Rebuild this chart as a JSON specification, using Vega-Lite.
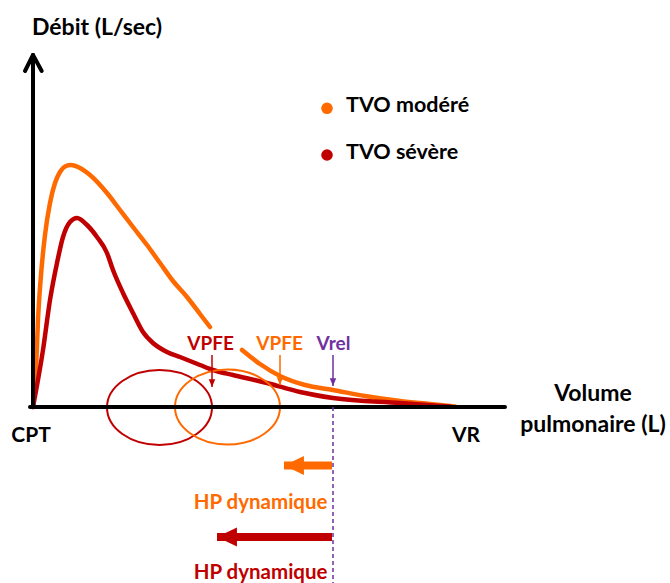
{
  "$schema": "https://vega.github.io/schema/vega-lite/v6.json",
  "width": 670,
  "height": 583,
  "padding": 0,
  "autosize": "none",
  "background": "white",
  "config": {"view": {"stroke": null}, "axis": {"domain": false}},
  "datasets": {
    "curves": [
      {"serie": "modere", "seg": "a", "vol": 0, "flow": 0},
      {"serie": "modere", "seg": "a", "vol": 3, "flow": 37},
      {"serie": "modere", "seg": "a", "vol": 5, "flow": 87},
      {"serie": "modere", "seg": "a", "vol": 8, "flow": 132},
      {"serie": "modere", "seg": "a", "vol": 12, "flow": 172},
      {"serie": "modere", "seg": "a", "vol": 17, "flow": 204},
      {"serie": "modere", "seg": "a", "vol": 22, "flow": 224},
      {"serie": "modere", "seg": "a", "vol": 27, "flow": 235},
      {"serie": "modere", "seg": "a", "vol": 33, "flow": 241},
      {"serie": "modere", "seg": "a", "vol": 38, "flow": 242},
      {"serie": "modere", "seg": "a", "vol": 47, "flow": 239},
      {"serie": "modere", "seg": "a", "vol": 57, "flow": 232},
      {"serie": "modere", "seg": "a", "vol": 74, "flow": 214},
      {"serie": "modere", "seg": "a", "vol": 87, "flow": 197},
      {"serie": "modere", "seg": "a", "vol": 100, "flow": 180},
      {"serie": "modere", "seg": "a", "vol": 114, "flow": 162},
      {"serie": "modere", "seg": "a", "vol": 127, "flow": 144},
      {"serie": "modere", "seg": "a", "vol": 140, "flow": 126},
      {"serie": "modere", "seg": "a", "vol": 154, "flow": 110},
      {"serie": "modere", "seg": "a", "vol": 167, "flow": 93},
      {"serie": "modere", "seg": "a", "vol": 177, "flow": 80},
      {"serie": "modere", "seg": "b", "vol": 209, "flow": 57},
      {"serie": "modere", "seg": "b", "vol": 227, "flow": 43},
      {"serie": "modere", "seg": "b", "vol": 247, "flow": 31},
      {"serie": "modere", "seg": "b", "vol": 272, "flow": 22},
      {"serie": "modere", "seg": "b", "vol": 300, "flow": 17},
      {"serie": "modere", "seg": "b", "vol": 332, "flow": 11},
      {"serie": "modere", "seg": "b", "vol": 367, "flow": 6},
      {"serie": "modere", "seg": "b", "vol": 397, "flow": 3},
      {"serie": "modere", "seg": "b", "vol": 422, "flow": 0.5},
      {"serie": "severe", "seg": "c", "vol": 0, "flow": 0},
      {"serie": "severe", "seg": "c", "vol": 10, "flow": 57},
      {"serie": "severe", "seg": "c", "vol": 17, "flow": 107},
      {"serie": "severe", "seg": "c", "vol": 24, "flow": 144},
      {"serie": "severe", "seg": "c", "vol": 30, "flow": 170},
      {"serie": "severe", "seg": "c", "vol": 37, "flow": 185},
      {"serie": "severe", "seg": "c", "vol": 44, "flow": 189},
      {"serie": "severe", "seg": "c", "vol": 54, "flow": 182},
      {"serie": "severe", "seg": "c", "vol": 64, "flow": 170},
      {"serie": "severe", "seg": "c", "vol": 74, "flow": 154},
      {"serie": "severe", "seg": "c", "vol": 80, "flow": 137},
      {"serie": "severe", "seg": "c", "vol": 90, "flow": 114},
      {"serie": "severe", "seg": "c", "vol": 100, "flow": 94},
      {"serie": "severe", "seg": "c", "vol": 110, "flow": 75},
      {"serie": "severe", "seg": "c", "vol": 120, "flow": 64},
      {"serie": "severe", "seg": "c", "vol": 134, "flow": 55},
      {"serie": "severe", "seg": "c", "vol": 147, "flow": 50},
      {"serie": "severe", "seg": "c", "vol": 167, "flow": 42},
      {"serie": "severe", "seg": "c", "vol": 180, "flow": 37},
      {"serie": "severe", "seg": "c", "vol": 200, "flow": 32},
      {"serie": "severe", "seg": "c", "vol": 234, "flow": 24},
      {"serie": "severe", "seg": "c", "vol": 267, "flow": 15},
      {"serie": "severe", "seg": "c", "vol": 300, "flow": 9},
      {"serie": "severe", "seg": "c", "vol": 367, "flow": 4},
      {"serie": "severe", "seg": "c", "vol": 417, "flow": 0.5}
    ],
    "ellipses": [
      {"serie": "severe", "vol": 126.5, "flow": -0.5},
      {"serie": "modere", "vol": 194.5, "flow": 0}
    ],
    "axes": [
      {"vol": 0, "flow": 0, "vol2": 0, "flow2": 352},
      {"vol": -3, "flow": 0, "vol2": 472, "flow2": 0},
      {"vol": 0, "flow": 352, "vol2": -8, "flow2": 336},
      {"vol": 0, "flow": 352, "vol2": 8.7, "flow2": 336}
    ],
    "vrel": [
      {"serie": "vrel", "vol": 300, "flow": 0, "flow2": -176}
    ],
    "pointers": [
      {"serie": "severe", "vol": 179, "flow": 52, "tip": 20},
      {"serie": "modere", "vol": 247, "flow": 52, "tip": 22},
      {"serie": "vrel", "vol": 300, "flow": 52, "tip": 21}
    ],
    "hp": [
      {"serie": "modere", "tip": 251, "end": 299, "flow": -58.5},
      {"serie": "severe", "tip": 184, "end": 299, "flow": -130}
    ],
    "legend": [
      {"serie": "modere", "vol": 294, "flow": 298.7, "label": "TVO modéré"},
      {"serie": "severe", "vol": 294, "flow": 252, "label": "TVO sévère"}
    ],
    "title_y": [
      {"label": "Débit (L/sec)", "vol": -1, "flow": 372}
    ],
    "ends": [
      {"label": "CPT", "vol": -2, "flow": -35},
      {"label": "VR", "vol": 433, "flow": -35}
    ],
    "title_x": [
      {"label": "Volume", "vol": 560, "flow": 6},
      {"label": "pulmonaire (L)", "vol": 560, "flow": -24.7}
    ],
    "labels_color": [
      {"serie": "severe", "label": "VPFE", "vol": 177.5, "flow": 57},
      {"serie": "modere", "label": "VPFE", "vol": 246.5, "flow": 57},
      {"serie": "vrel", "label": "Vrel", "vol": 300.5, "flow": 57}
    ],
    "labels_hp": [
      {"serie": "modere", "label": "HP dynamique", "vol": 294.5, "flow": -102},
      {"serie": "severe", "label": "HP dynamique", "vol": 294.5, "flow": -172}
    ]
  },
  "encoding": {
    "x": {"field": "vol", "type": "quantitative", "axis": null,
          "scale": {"domain": [-33, 637], "nice": false, "zero": false}},
    "y": {"field": "flow", "type": "quantitative", "axis": null,
          "scale": {"domain": [-176, 407], "nice": false, "zero": false}}
  },
  "layer": [
    {
      "data": {"name": "curves"},
      "mark": {"type": "line", "interpolate": "monotone", "strokeWidth": 4.5, "strokeCap": "round"},
      "encoding": {
        "color": {"field": "serie", "type": "nominal", "legend": null,
                  "scale": {"domain": ["modere", "severe", "vrel"], "range": ["#FF6A00", "#C00000", "#7030A0"]}},
        "detail": {"field": "seg"}
      }
    },
    {
      "data": {"name": "ellipses"},
      "mark": {"type": "point", "filled": false, "strokeWidth": 2, "opacity": 1, "size": 11025,
               "shape": "M 1 0 C 1 0.394 0.552 0.714 0 0.714 C -0.552 0.714 -1 0.394 -1 0 C -1 -0.394 -0.552 -0.714 0 -0.714 C 0.552 -0.714 1 -0.394 1 0 Z"},
      "encoding": {"color": {"field": "serie", "type": "nominal", "legend": null}}
    },
    {
      "data": {"name": "axes"},
      "mark": {"type": "rule", "color": "black", "strokeWidth": 4, "strokeCap": "round"},
      "encoding": {
        "x2": {"field": "vol2"},
        "y2": {"field": "flow2"}
      }
    },
    {
      "data": {"name": "vrel"},
      "mark": {"type": "rule", "strokeWidth": 1.5, "strokeDash": [4, 3]},
      "encoding": {
        "y2": {"field": "flow2"},
        "color": {"field": "serie", "type": "nominal", "legend": null}
      }
    },
    {
      "data": {"name": "pointers"},
      "mark": {"type": "rule", "strokeWidth": 1.5},
      "encoding": {
        "y2": {"field": "tip"},
        "color": {"field": "serie", "type": "nominal", "legend": null}
      }
    },
    {
      "data": {"name": "pointers"},
      "mark": {"type": "point", "filled": true, "opacity": 1, "size": 42,
               "shape": "M -1 -2.4 L 1 -2.4 L 0 0 Z"},
      "encoding": {
        "y": {"field": "tip", "type": "quantitative"},
        "color": {"field": "serie", "type": "nominal", "legend": null}
      }
    },
    {
      "data": {"name": "hp"},
      "mark": {"type": "rule", "strokeWidth": 8, "strokeCap": "butt"},
      "encoding": {
        "x": {"field": "tip", "type": "quantitative"},
        "x2": {"field": "end"},
        "color": {"field": "serie", "type": "nominal", "legend": null}
      }
    },
    {
      "data": {"name": "hp"},
      "mark": {"type": "point", "filled": true, "opacity": 1, "size": 361,
               "shape": "M 0 0 L 2.1 -1 L 2.1 1 Z"},
      "encoding": {
        "x": {"field": "tip", "type": "quantitative"},
        "color": {"field": "serie", "type": "nominal", "legend": null}
      }
    },
    {
      "data": {"name": "legend"},
      "mark": {"type": "point", "filled": true, "opacity": 1, "size": 135, "shape": "circle"},
      "encoding": {"color": {"field": "serie", "type": "nominal", "legend": null}}
    },
    {
      "data": {"name": "legend"},
      "mark": {"type": "text", "align": "left", "baseline": "alphabetic", "dx": 19, "dy": 4, "font": "Lato", "fontWeight": "bold", "fontSize": 21.5, "color": "black"},
      "encoding": {"text": {"field": "label"}}
    },
    {
      "data": {"name": "title_y"},
      "mark": {"type": "text", "align": "left", "baseline": "alphabetic", "font": "Lato", "fontWeight": "bold", "fontSize": 23, "color": "black"},
      "encoding": {"text": {"field": "label"}}
    },
    {
      "data": {"name": "ends"},
      "mark": {"type": "text", "align": "center", "baseline": "alphabetic", "font": "Lato", "fontWeight": "bold", "fontSize": 21, "color": "black"},
      "encoding": {"text": {"field": "label"}}
    },
    {
      "data": {"name": "title_x"},
      "mark": {"type": "text", "align": "center", "baseline": "alphabetic", "font": "Lato", "fontWeight": "bold", "fontSize": 23, "color": "black"},
      "encoding": {"text": {"field": "label"}}
    },
    {
      "data": {"name": "labels_color"},
      "mark": {"type": "text", "baseline": "alphabetic", "align": "center", "font": "Lato", "fontWeight": "bold", "fontSize": 19},
      "encoding": {"text": {"field": "label"}, "color": {"field": "serie", "type": "nominal", "legend": null}}
    },
    {
      "data": {"name": "labels_hp"},
      "mark": {"type": "text", "baseline": "alphabetic", "align": "right", "font": "Lato", "fontWeight": "bold", "fontSize": 20.5},
      "encoding": {"text": {"field": "label"}, "color": {"field": "serie", "type": "nominal", "legend": null}}
    }
  ]
}
